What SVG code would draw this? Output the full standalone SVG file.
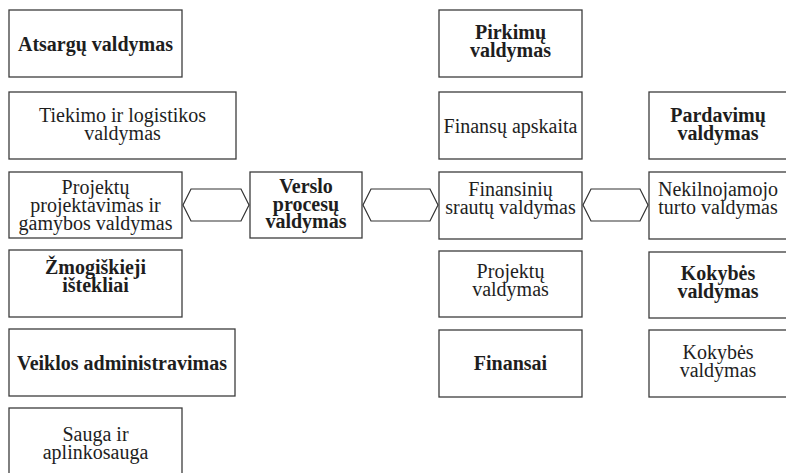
<svg xmlns="http://www.w3.org/2000/svg" width="786" height="473" viewBox="0 0 786 473">
  <style>
    .box { fill: #ffffff; stroke: #3c3c3c; stroke-width: 1.3; }
    .link { fill: none; stroke: #333333; stroke-width: 1.2; stroke-linejoin: miter; }
    .t { font-family: 'Liberation Serif', 'DejaVu Serif', 'Times New Roman', Times, serif; font-size: 20px; fill: #1e1e1e; text-anchor: middle; }
    .b { font-weight: bold; }
  </style>
  <rect width="786" height="473" fill="#ffffff"/>

  <!-- left column -->
  <g id="atsargu">
    <rect class="box" x="9" y="10" width="173" height="67"/>
    <text class="t b" x="95.5" y="51">Atsargų valdymas</text>
  </g>
  <g id="tiekimo">
    <rect class="box" x="9" y="92" width="227" height="67"/>
    <text class="t" x="122.5" y="122">Tiekimo ir logistikos</text>
    <text class="t" x="122.5" y="140">valdymas</text>
  </g>
  <g id="projektavimas">
    <rect class="box" x="9" y="172" width="173" height="66"/>
    <text class="t" x="95.5" y="193.5">Projektų</text>
    <text class="t" x="95.5" y="211.5">projektavimas ir</text>
    <text class="t" x="95.5" y="229.5">gamybos valdymas</text>
  </g>
  <g id="zmogiskieji">
    <rect class="box" x="9" y="250" width="173" height="67"/>
    <text class="t b" x="95.5" y="274">Žmogiškieji</text>
    <text class="t b" x="95.5" y="292">ištekliai</text>
  </g>
  <g id="veiklos">
    <rect class="box" x="9" y="329" width="226" height="67"/>
    <text class="t b" x="122" y="369.5">Veiklos administravimas</text>
  </g>
  <g id="sauga">
    <rect class="box" x="9" y="408" width="173" height="70"/>
    <text class="t" x="95.5" y="441">Sauga ir</text>
    <text class="t" x="95.5" y="459">aplinkosauga</text>
  </g>

  <!-- centre -->
  <g id="verslo">
    <rect class="box" x="250" y="172" width="112" height="66"/>
    <text class="t b" x="306" y="193">Verslo</text>
    <text class="t b" x="306" y="210.5">procesų</text>
    <text class="t b" x="306" y="228">valdymas</text>
  </g>

  <!-- middle column -->
  <g id="pirkimu">
    <rect class="box" x="439" y="10" width="143" height="67"/>
    <text class="t b" x="510.5" y="39">Pirkimų</text>
    <text class="t b" x="510.5" y="57">valdymas</text>
  </g>
  <g id="apskaita">
    <rect class="box" x="439" y="92" width="143" height="67"/>
    <text class="t" x="510.5" y="132.5">Finansų apskaita</text>
  </g>
  <g id="srautu">
    <rect class="box" x="439" y="172" width="143" height="67"/>
    <text class="t" x="510.5" y="196">Finansinių</text>
    <text class="t" x="510.5" y="214">srautų valdymas</text>
  </g>
  <g id="projektu">
    <rect class="box" x="439" y="251" width="143" height="66"/>
    <text class="t" x="510.5" y="278">Projektų</text>
    <text class="t" x="510.5" y="296">valdymas</text>
  </g>
  <g id="finansai">
    <rect class="box" x="439" y="330" width="143" height="67"/>
    <text class="t b" x="510.5" y="370">Finansai</text>
  </g>

  <!-- right column -->
  <g id="pardavimu">
    <rect class="box" x="649" y="92" width="140" height="67"/>
    <text class="t b" x="718" y="122">Pardavimų</text>
    <text class="t b" x="718" y="140">valdymas</text>
  </g>
  <g id="nekilnojamojo">
    <rect class="box" x="649" y="172" width="140" height="67"/>
    <text class="t" x="718" y="196">Nekilnojamojo</text>
    <text class="t" x="718" y="214">turto valdymas</text>
  </g>
  <g id="kokybes-b">
    <rect class="box" x="649" y="252" width="140" height="66"/>
    <text class="t b" x="718" y="280">Kokybės</text>
    <text class="t b" x="718" y="298">valdymas</text>
  </g>
  <g id="kokybes">
    <rect class="box" x="649" y="330" width="140" height="67"/>
    <text class="t" x="718" y="359">Kokybės</text>
    <text class="t" x="718" y="377">valdymas</text>
  </g>

  <!-- two-way block arrows -->
  <g id="connectors">
    <polygon class="link" points="183,205 191,189 241,189 249,205 241,221 191,221"/>
    <polygon class="link" points="363,205 371,189 430,189 438,205 430,221 371,221"/>
    <polygon class="link" points="583,205 591,189 640,189 648,205 640,221 591,221"/>
  </g>
</svg>
